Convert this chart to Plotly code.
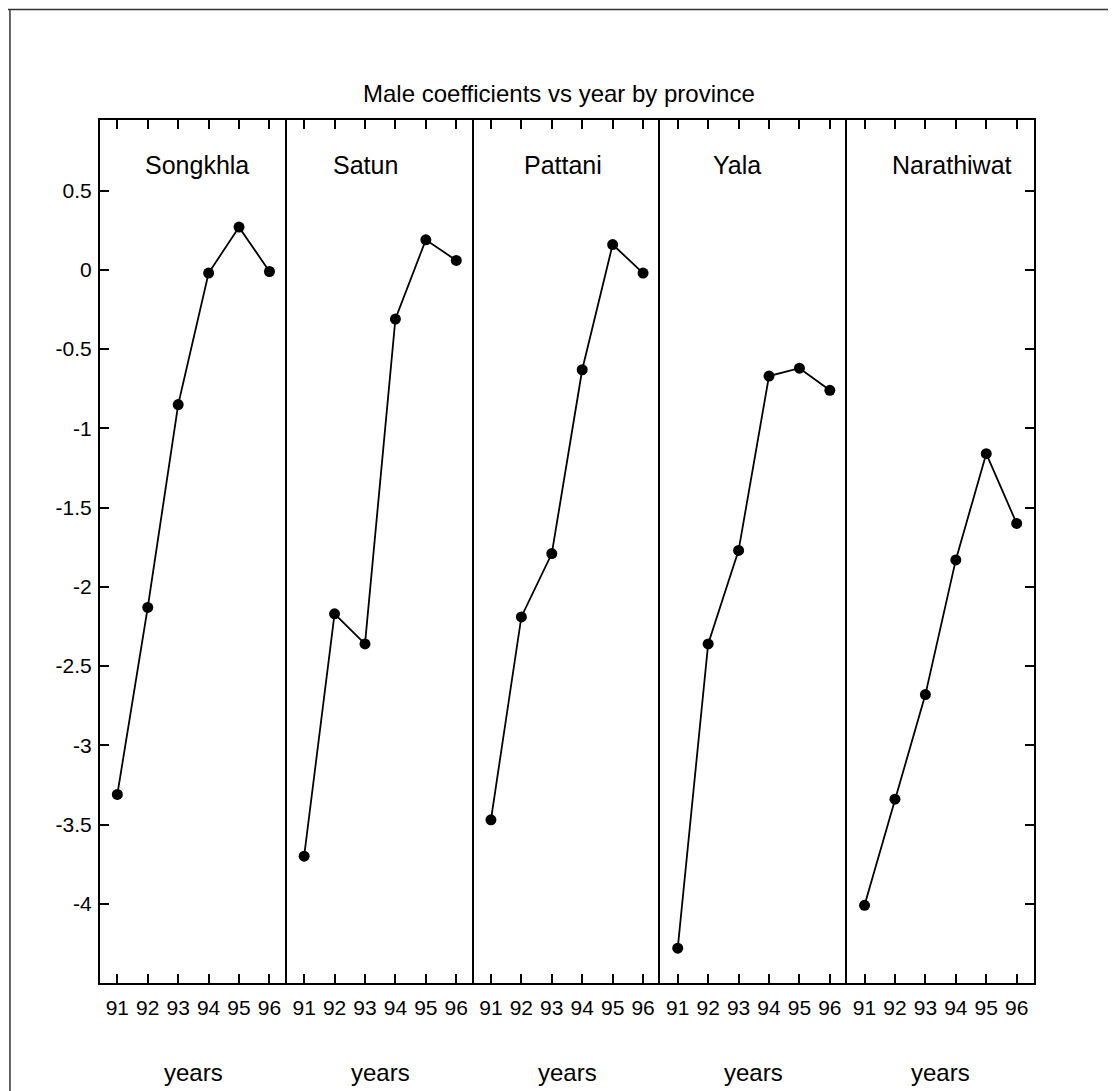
import plotly.graph_objects as go
from plotly.subplots import make_subplots

provinces = ["Songkhla", "Satun", "Pattani", "Yala", "Narathiwat"]
years = [91, 92, 93, 94, 95, 96]
year_labels = ["91", "92", "93", "94", "95", "96"]
songkhla = [-3.31, -2.13, -0.85, -0.02, 0.27, -0.01]
satun = [-3.70, -2.17, -2.36, -0.31, 0.19, 0.06]
pattani = [-3.47, -2.19, -1.79, -0.63, 0.16, -0.02]
yala = [-4.28, -2.36, -1.77, -0.67, -0.62, -0.76]
narathiwat = [-4.01, -3.34, -2.68, -1.83, -1.16, -1.60]
series = [songkhla, satun, pattani, yala, narathiwat]

y_tickvals = [0.5, 0, -0.5, -1, -1.5, -2, -2.5, -3, -3.5, -4]
y_ticktext = ["0.5", "0", "-0.5", "-1", "-1.5", "-2", "-2.5", "-3", "-3.5", "-4"]

title_text = "Male coefficients vs year by province"
xlabel = "years"

FONT = "Liberation Sans, Arial, Helvetica, sans-serif"
label_x = [0.52, 0.42, 0.48, 0.41, 0.56]

fig = make_subplots(rows=1, cols=5, horizontal_spacing=0)

for i, (name, vals) in enumerate(zip(provinces, series)):
    fig.add_trace(
        go.Scatter(
            x=years, y=vals, mode="lines+markers", name=name,
            line=dict(color="black", width=1.8),
            marker=dict(color="black", size=11),
            showlegend=False,
        ),
        row=1, col=i + 1,
    )
    fig.update_xaxes(
        range=[90.43, 96.57], tickvals=years, ticktext=year_labels,
        showline=True, linecolor="black", linewidth=2, mirror="ticks",
        ticks="inside", ticklen=9, tickwidth=1.5, tickcolor="black",
        showgrid=False, zeroline=False, ticklabelstandoff=5,
        tickfont=dict(family=FONT, size=21, color="black"),
        row=1, col=i + 1,
    )
    yopts = dict(
        range=[-4.5, 0.946], tickvals=y_tickvals, ticktext=y_ticktext,
        showline=True, linecolor="black", linewidth=2,
        showgrid=False, zeroline=False,
        tickfont=dict(family=FONT, size=21, color="black"),
    )
    if i == 0:
        yopts.update(ticks="inside", ticklen=9, tickwidth=1.5, tickcolor="black",
                     showticklabels=True, side="left", mirror=False,
                     ticklabelstandoff=2)
    elif i == 4:
        yopts.update(ticks="inside", ticklen=9, tickwidth=1.5, tickcolor="black",
                     showticklabels=False, side="right", mirror=True)
    else:
        yopts.update(ticks="", showticklabels=False, mirror=False)
    fig.update_yaxes(**yopts, row=1, col=i + 1)

    xa = "x" if i == 0 else f"x{i+1}"
    ya = "y" if i == 0 else f"y{i+1}"
    fig.add_annotation(
        text=name, xref=f"{xa} domain", yref=f"{ya} domain",
        x=label_x[i], y=0.948, xanchor="center", yanchor="middle",
        showarrow=False, font=dict(family=FONT, size=25, color="black"),
    )
    fig.add_annotation(
        text=xlabel, xref=f"{xa} domain", yref="paper",
        x=0.5, y=-0.104, xanchor="center", yanchor="middle",
        showarrow=False, font=dict(family=FONT, size=24, color="black"),
    )

fig.add_annotation(
    text=title_text, xref="paper", yref="paper", x=0.491, y=1.031,
    xanchor="center", yanchor="middle", showarrow=False,
    font=dict(family=FONT, size=24, color="black"),
)

# scanned page edges
fig.add_shape(type="line", xref="paper", yref="paper", x0=-0.0964, x1=-0.0964,
              y0=-0.125, y1=1.128, line=dict(color="#333333", width=1.5))
fig.add_shape(type="line", xref="paper", yref="paper", x0=-0.11, x1=1.09,
              y0=1.128, y1=1.128, line=dict(color="#333333", width=1.5))

fig.update_layout(
    width=1108, height=1083,
    margin=dict(l=92, r=82, t=112, b=108),
    paper_bgcolor="white", plot_bgcolor="white",
    font=dict(family=FONT, color="black"),
)

fig.write_html("out.html")
